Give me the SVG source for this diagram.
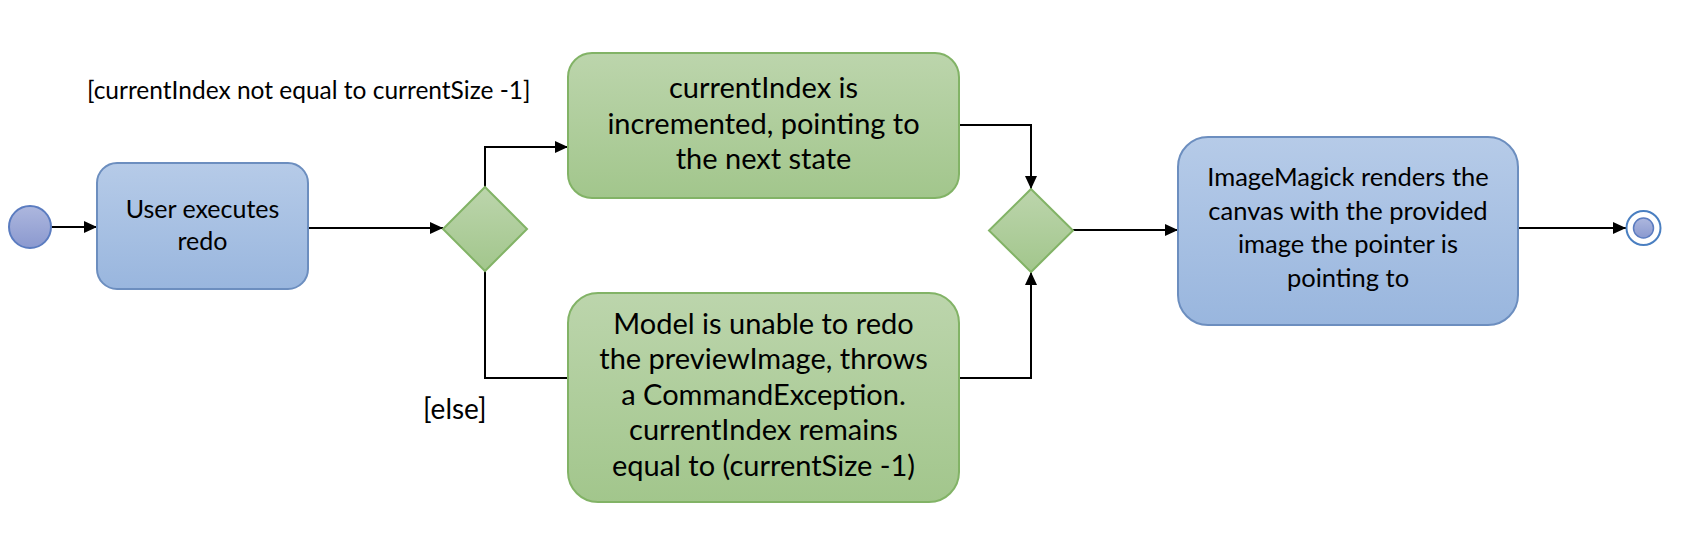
<svg xmlns="http://www.w3.org/2000/svg" width="1694" height="548" viewBox="0 0 1694 548">
<style>
.blue{stroke:#6c8ebf;stroke-width:2;fill:url(#gBlue)}
.green{stroke:#82b366;stroke-width:2;fill:url(#gGreen)}
.t{font-family:Lato,"Liberation Sans",Arial,sans-serif;fill:#000;text-anchor:middle}
.lbl{font-family:Lato,"Liberation Sans",Arial,sans-serif;fill:#000}
.edge{stroke:#000;stroke-width:2;fill:none}
</style>
<defs>
<linearGradient id="gBlue" x1="0" y1="0" x2="0" y2="1"><stop offset="0" stop-color="#b6cbe8"/><stop offset="1" stop-color="#99b6de"/></linearGradient>
<linearGradient id="gGreen" x1="0" y1="0" x2="0" y2="1"><stop offset="0" stop-color="#bcd5ac"/><stop offset="1" stop-color="#a2c68c"/></linearGradient>
<linearGradient id="gStart" x1="0" y1="0" x2="0" y2="1"><stop offset="0" stop-color="#adb7de"/><stop offset="1" stop-color="#8b99cf"/></linearGradient>
<marker id="arr" markerUnits="userSpaceOnUse" markerWidth="14" markerHeight="12" refX="13" refY="6" orient="auto"><path d="M0,0 L13,6 L0,12 z" fill="#000"/></marker>
</defs>
<rect width="1694" height="548" fill="#fff"/>
<g id="connectors">
<path class="edge" d="M51,227 L97,227" marker-end="url(#arr)"/>
<path class="edge" d="M308,228 L443,228" marker-end="url(#arr)"/>
<path class="edge" d="M485,187 L485,147 L568,147" marker-end="url(#arr)"/>
<path class="edge" d="M485,270 L485,378 L568,378"/>
<path class="edge" d="M959,125 L1031,125 L1031,189" marker-end="url(#arr)"/>
<path class="edge" d="M959,378 L1031,378 L1031,272" marker-end="url(#arr)"/>
<path class="edge" d="M1073,230 L1178,230" marker-end="url(#arr)"/>
<path class="edge" d="M1518,228 L1626,228" marker-end="url(#arr)"/>
</g>
<g id="guard-labels">
<text class="lbl" x="87" y="99" font-size="24.5">[currentIndex not equal to currentSize -1]</text>
<text class="lbl" x="423" y="419" font-size="28">[else]</text>
</g>
<g id="start"><circle cx="30" cy="227" r="21" fill="url(#gStart)" stroke="#5b7cc0" stroke-width="2"/></g>
<g id="user-executes-redo">
<rect class="blue" x="97" y="163" width="211" height="126" rx="20"/>
<text class="t" x="202.5" y="218" font-size="25">User executes</text>
<text class="t" x="202.5" y="250" font-size="25">redo</text>
</g>
<g id="decision1"><path class="green" d="M485,187 L527,229 L485,271 L443,229 Z"/></g>
<g id="index-incremented">
<rect class="green" x="568" y="53" width="391" height="145" rx="24"/>
<text class="t" x="763.5" y="98" font-size="29">currentIndex is</text>
<text class="t" x="763.5" y="133.5" font-size="29">incremented, pointing to</text>
<text class="t" x="763.5" y="169" font-size="29">the next state</text>
</g>
<g id="unable-to-redo">
<rect class="green" x="568" y="293" width="391" height="209" rx="30"/>
<text class="t" x="763.5" y="333.5" font-size="29">Model is unable to redo</text>
<text class="t" x="763.5" y="369" font-size="29">the previewImage, throws</text>
<text class="t" x="763.5" y="404.5" font-size="29">a CommandException.</text>
<text class="t" x="763.5" y="440" font-size="29">currentIndex remains</text>
<text class="t" x="763.5" y="475.5" font-size="29">equal to (currentSize -1)</text>
</g>
<g id="decision2"><path class="green" d="M1031,189 L1073,230.5 L1031,272 L989,230.5 Z"/></g>
<g id="imagemagick-renders">
<rect class="blue" x="1178" y="137" width="340" height="188" rx="30"/>
<text class="t" x="1348" y="186" font-size="25.5">ImageMagick renders the</text>
<text class="t" x="1348" y="219.5" font-size="25.5">canvas with the provided</text>
<text class="t" x="1348" y="253" font-size="25.5">image the pointer is</text>
<text class="t" x="1348" y="286.5" font-size="25.5">pointing to</text>
</g>
<g id="end">
<circle cx="1643.5" cy="228" r="17" fill="#fff" stroke="#4a7fc1" stroke-width="2"/>
<circle cx="1643.5" cy="228" r="10" fill="url(#gStart)" stroke="#5b7cc0" stroke-width="1.5"/>
</g>
</svg>
